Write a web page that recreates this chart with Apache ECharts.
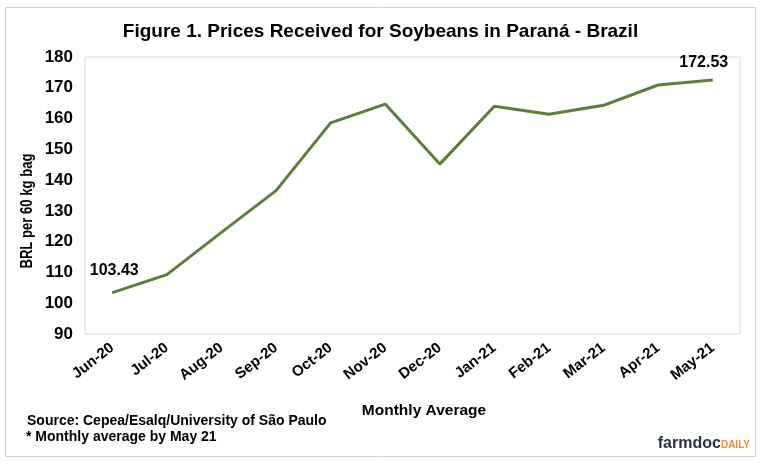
<!DOCTYPE html>
<html><head><meta charset="utf-8">
<script src="https://cdn.jsdelivr.net/npm/echarts@6/dist/echarts.min.js"></script>
<style>html,body{margin:0;padding:0;background:#fff}#c{width:761px;height:468px}</style>
</head><body><div id="c"></div>
<script>
const categories = ['Jun-20','Jul-20','Aug-20','Sep-20','Oct-20','Nov-20','Dec-20','Jan-21','Feb-21','Mar-21','Apr-21','May-21'];
const prices = [103.43, 109.3, 123.0, 136.6, 158.6, 164.7, 145.2, 164.0, 161.4, 164.3, 170.9, 172.53];
const yTicks = [90, 180, 10];

const chart = echarts.init(document.getElementById('c'), null, {renderer:'canvas'});
const F = '"Liberation Sans", Arial, sans-serif';
const lblStyle = {show:true, fontFamily:F, fontWeight:'bold', fontSize:16, color:'#000'};
const seriesData = prices.map((v,i)=>{
  if(i===0) return {value:v, label:Object.assign({}, lblStyle, {position:'top', distance:14, offset:[2,0], formatter:v.toFixed(2)})};
  if(i===prices.length-1) return {value:v, label:Object.assign({}, lblStyle, {position:'top', distance:9, offset:[-9,0], formatter:v.toFixed(2)})};
  return {value:v, label:{show:false}};
});
chart.setOption({
  animation:false,
  backgroundColor:'#fff',
  title:{text:'Figure 1. Prices Received for Soybeans in Paraná - Brazil', left:'center', top:17,
    textStyle:{fontFamily:F, fontWeight:'bold', fontSize:19, color:'#000'}},
  grid:{left:85, right:21, top:57, bottom:134, show:true, borderColor:'#d9d9d9', borderWidth:1},
  xAxis:{type:'category', data:categories, boundaryGap:true,
    axisLine:{show:false}, axisTick:{show:false},
    axisLabel:{rotate:38, fontFamily:F, fontWeight:'bold', fontSize:15, color:'#000', margin:12, interval:0}},
  yAxis:{type:'value', min:yTicks[0], max:yTicks[1], interval:yTicks[2],
    splitLine:{show:false}, axisLine:{show:false}, axisTick:{show:false},
    axisLabel:{fontFamily:F, fontWeight:'bold', fontSize:17, color:'#000', margin:12}},
  graphic:[
    {type:'rect', shape:{x:5.5,y:7.5,width:750,height:449}, style:{fill:'none', stroke:'#cfcfcf', lineWidth:1}, z:-1},
    {type:'text', x:28, y:211, rotation:Math.PI/2, scaleX:0.82, style:{text:'BRL per 60 kg bag', font:'bold 16px '+F, fill:'#000', align:'center', verticalAlign:'middle'}},
    {type:'text', x:424, y:411, style:{text:'Monthly Average', font:'bold 15.5px '+F, fill:'#000', align:'center', verticalAlign:'middle'}},
    {type:'text', x:27, y:421, style:{text:'Source: Cepea/Esalq/University of São Paulo', font:'bold 14px '+F, fill:'#000', verticalAlign:'middle'}},
    {type:'text', x:26, y:437, style:{text:'* Monthly average by May 21', font:'bold 14px '+F, fill:'#000', verticalAlign:'middle'}},
    {type:'text', x:750, y:444, style:{
      text:'{a|farmdoc}{b|DAILY}', align:'right', verticalAlign:'middle',
      rich:{a:{fontFamily:F, fontWeight:'bold', fontSize:16, fill:'#2b3245'}, b:{fontFamily:F, fontWeight:'bold', fontSize:10, fill:'#ee8a3c', padding:[3,0,0,0]}}}}
  ],
  series:[{type:'line', data:seriesData, symbol:'circle', symbolSize:1, showSymbol:true,
    itemStyle:{color:'#5b7f3a'}, lineStyle:{color:'#5b7f3a', width:3}}]
});
</script></body></html>
